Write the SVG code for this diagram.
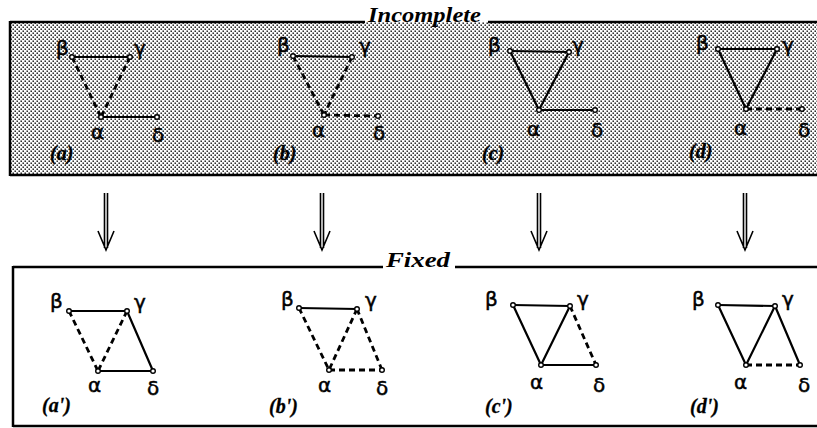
<svg xmlns="http://www.w3.org/2000/svg" width="817" height="428" viewBox="0 0 817 428">
<defs>
<pattern id="dots" width="4" height="4" patternUnits="userSpaceOnUse">
<rect x="0" y="0" width="4" height="4" fill="#fff"/>
<rect x="0.5" y="0.5" width="1.4" height="1.4" fill="#000"/>
<rect x="2.5" y="2.5" width="1.4" height="1.4" fill="#000"/>
</pattern>
<style>
.frame{fill:none;stroke:#000;stroke-width:2.5}
.e{stroke:#000;stroke-width:2.2;fill:none;stroke-linecap:round}
.d{stroke:#000;stroke-width:2.8;fill:none;stroke-dasharray:6 4}
.n{fill:#fff;stroke:#000;stroke-width:1.4}
.g{font-family:"DejaVu Sans","Liberation Sans",sans-serif;font-size:20px;fill:#000;stroke:#000;stroke-width:0.5}
.p{font-family:"Liberation Serif",serif;font-style:italic;font-weight:bold;font-size:20px;fill:#000;stroke:#000;stroke-width:0.3}
.t{font-family:"Liberation Serif",serif;font-style:italic;font-weight:bold;font-size:22px;fill:#000}
.arr{stroke:#000;stroke-width:1.6;fill:none}
</style>
</defs>

<g id="incomplete-frame">
<rect x="10" y="22" width="810" height="153" fill="url(#dots)"/>
<line class="frame" x1="10" y1="22" x2="365" y2="22"/>
<line class="frame" x1="488" y1="22" x2="817" y2="22"/>
<line class="frame" x1="10" y1="21" x2="10" y2="176"/>
<line class="frame" x1="10" y1="175" x2="817" y2="175"/>
<text class="t" x="368" y="22" textLength="113" lengthAdjust="spacingAndGlyphs">Incomplete</text>
</g>

<g id="fixed-frame">
<line class="frame" x1="13" y1="267" x2="383" y2="267" stroke-width="2"/>
<line class="frame" x1="455" y1="267" x2="817" y2="267" stroke-width="2"/>
<line class="frame" x1="13" y1="266" x2="13" y2="427" stroke-width="2"/>
<line class="frame" x1="13" y1="426" x2="817" y2="426" stroke-width="2"/>
<text class="t" x="386" y="267" textLength="64" lengthAdjust="spacingAndGlyphs">Fixed</text>
</g>

<g id="arrows">
<g id="arrow-a"><path class="arr" d="M104.5 193V248M107.5 193V248M98 231L106 250L114 231"/></g>
<g id="arrow-b"><path class="arr" d="M320.5 193V248M323.5 193V248M314 231L322 250L330 231"/></g>
<g id="arrow-c"><path class="arr" d="M537.5 193V248M540.5 193V248M531 231L539 250L547 231"/></g>
<g id="arrow-d"><path class="arr" d="M743.5 193V248M746.5 193V248M737 231L745 250L753 231"/></g>
</g>

<g id="connectors">
<!-- (a) -->
<line class="e" x1="72" y1="57" x2="130" y2="57"/>
<line class="d" x1="72" y1="57" x2="101" y2="117"/>
<line class="d" x1="130" y1="57" x2="101" y2="117"/>
<line class="e" x1="101" y1="117" x2="157" y2="117"/>
<!-- (b) -->
<line class="e" x1="293" y1="56" x2="352" y2="57"/>
<line class="d" x1="293" y1="56" x2="324" y2="115"/>
<line class="d" x1="352" y1="57" x2="324" y2="115"/>
<line class="d" x1="324" y1="115" x2="378" y2="116"/>
<!-- (c) -->
<line class="e" x1="510" y1="51" x2="569" y2="52"/>
<line class="e" x1="510" y1="51" x2="539" y2="110"/>
<line class="e" x1="569" y1="52" x2="539" y2="110"/>
<line class="e" x1="539" y1="110" x2="595" y2="110"/>
<!-- (d) -->
<line class="e" x1="718" y1="49" x2="777" y2="49"/>
<line class="e" x1="718" y1="49" x2="746" y2="109"/>
<line class="e" x1="777" y1="49" x2="746" y2="109"/>
<line class="d" x1="746" y1="109" x2="802" y2="109"/>
<!-- (a') -->
<line class="e" x1="69" y1="311" x2="127" y2="311"/>
<line class="d" x1="69" y1="311" x2="98" y2="371"/>
<line class="d" x1="127" y1="311" x2="98" y2="371"/>
<line class="e" x1="127" y1="311" x2="153" y2="371"/>
<line class="e" x1="98" y1="371" x2="153" y2="371"/>
<!-- (b') -->
<line class="e" x1="299" y1="308" x2="357" y2="309"/>
<line class="d" x1="299" y1="308" x2="329" y2="370"/>
<line class="d" x1="357" y1="309" x2="329" y2="370"/>
<line class="d" x1="357" y1="309" x2="382" y2="370"/>
<line class="d" x1="329" y1="370" x2="382" y2="370"/>
<!-- (c') -->
<line class="e" x1="513" y1="305" x2="570" y2="306"/>
<line class="e" x1="513" y1="305" x2="541" y2="365"/>
<line class="e" x1="570" y1="306" x2="541" y2="365"/>
<line class="d" x1="570" y1="306" x2="596" y2="365"/>
<line class="e" x1="541" y1="365" x2="596" y2="365"/>
<!-- (d') -->
<line class="e" x1="718" y1="305" x2="775" y2="306"/>
<line class="e" x1="718" y1="305" x2="746" y2="365"/>
<line class="e" x1="775" y1="306" x2="746" y2="365"/>
<line class="e" x1="775" y1="306" x2="800" y2="365"/>
<line class="d" x1="746" y1="365" x2="800" y2="365"/>
</g>

<g id="panel-a">
<circle class="n" cx="72" cy="57" r="2.3"/><circle class="n" cx="130" cy="57" r="2.3"/><circle class="n" cx="101" cy="117" r="2.3"/><circle class="n" cx="157" cy="117" r="2.3"/>
<text class="g" x="56" y="55">β</text><text class="g" x="134" y="55">γ</text><text class="g" x="91" y="139">α</text><text class="g" x="152" y="142">δ</text>
<text class="p" x="50" y="160">(a)</text>
</g>
<g id="panel-b">
<circle class="n" cx="293" cy="56" r="2.3"/><circle class="n" cx="352" cy="57" r="2.3"/><circle class="n" cx="324" cy="115" r="2.3"/><circle class="n" cx="378" cy="116" r="2.3"/>
<text class="g" x="277" y="52">β</text><text class="g" x="359" y="53">γ</text><text class="g" x="312" y="137">α</text><text class="g" x="373" y="140">δ</text>
<text class="p" x="273" y="160">(b)</text>
</g>
<g id="panel-c">
<circle class="n" cx="510" cy="51" r="2.3"/><circle class="n" cx="569" cy="52" r="2.3"/><circle class="n" cx="539" cy="110" r="2.3"/><circle class="n" cx="595" cy="110" r="2.3"/>
<text class="g" x="488" y="52">β</text><text class="g" x="572" y="52">γ</text><text class="g" x="527" y="136">α</text><text class="g" x="591" y="137">δ</text>
<text class="p" x="482" y="160">(c)</text>
</g>
<g id="panel-d">
<circle class="n" cx="718" cy="49" r="2.3"/><circle class="n" cx="777" cy="49" r="2.3"/><circle class="n" cx="746" cy="109" r="2.3"/><circle class="n" cx="802" cy="109" r="2.3"/>
<text class="g" x="696" y="50">β</text><text class="g" x="782" y="52">γ</text><text class="g" x="734" y="135">α</text><text class="g" x="798" y="137">δ</text>
<text class="p" x="689" y="158">(d)</text>
</g>
<g id="panel-a-fixed">
<circle class="n" cx="69" cy="311" r="2.3"/><circle class="n" cx="127" cy="311" r="2.3"/><circle class="n" cx="98" cy="371" r="2.3"/><circle class="n" cx="153" cy="371" r="2.3"/>
<text class="g" x="50" y="308">β</text><text class="g" x="134" y="309">γ</text><text class="g" x="88" y="392">α</text><text class="g" x="147" y="395">δ</text>
<text class="p" x="42" y="412">(a')</text>
</g>
<g id="panel-b-fixed">
<circle class="n" cx="299" cy="308" r="2.3"/><circle class="n" cx="357" cy="309" r="2.3"/><circle class="n" cx="329" cy="370" r="2.3"/><circle class="n" cx="382" cy="370" r="2.3"/>
<text class="g" x="281" y="306">β</text><text class="g" x="365" y="307">γ</text><text class="g" x="318" y="392">α</text><text class="g" x="376" y="395">δ</text>
<text class="p" x="269" y="413">(b')</text>
</g>
<g id="panel-c-fixed">
<circle class="n" cx="513" cy="305" r="2.3"/><circle class="n" cx="570" cy="306" r="2.3"/><circle class="n" cx="541" cy="365" r="2.3"/><circle class="n" cx="596" cy="365" r="2.3"/>
<text class="g" x="485" y="306">β</text><text class="g" x="577" y="306">γ</text><text class="g" x="530" y="389">α</text><text class="g" x="593" y="392">δ</text>
<text class="p" x="485" y="413">(c')</text>
</g>
<g id="panel-d-fixed">
<circle class="n" cx="718" cy="305" r="2.3"/><circle class="n" cx="775" cy="306" r="2.3"/><circle class="n" cx="746" cy="365" r="2.3"/><circle class="n" cx="800" cy="365" r="2.3"/>
<text class="g" x="692" y="306">β</text><text class="g" x="782" y="306">γ</text><text class="g" x="734" y="389">α</text><text class="g" x="798" y="392">δ</text>
<text class="p" x="690" y="413">(d')</text>
</g>
</svg>
